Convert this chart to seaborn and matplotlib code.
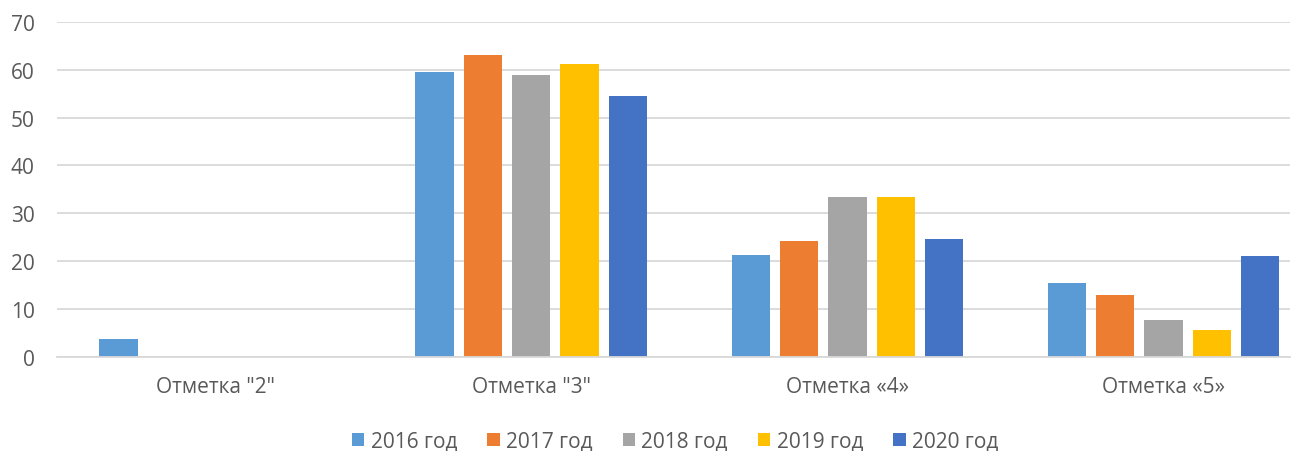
import matplotlib
matplotlib.use("Agg")
import matplotlib.pyplot as plt
import pandas as pd
import seaborn as sns

categories = ['Отметка "2"', 'Отметка "3"', 'Отметка «4»', 'Отметка «5»']
years = ['2016 год', '2017 год', '2018 год', '2019 год', '2020 год']
values_2016 = [3.8, 59.6, 21.3, 15.4]
values_2017 = [0, 63.1, 24.1, 13.0]
values_2018 = [0, 59.0, 33.5, 7.7]
values_2019 = [0, 61.2, 33.4, 5.6]
values_2020 = [0, 54.5, 24.6, 21.1]
colors = ['#5B9BD5', '#ED7D31', '#A5A5A5', '#FFC000', '#4472C4']

sns.set_theme(style="white")
plt.rcParams['font.family'] = ['Open Sans', 'DejaVu Sans']

rows = []
for year, vals in zip(years, [values_2016, values_2017, values_2018, values_2019, values_2020]):
    for cat, v in zip(categories, vals):
        rows.append({'category': cat, 'year': year, 'value': v})
df = pd.DataFrame(rows)

fig = plt.figure(figsize=(12.91, 4.52), dpi=100)
ax = fig.add_axes([57 / 1291, 1 - 357.7 / 452, (1290 - 57) / 1291, (357.7 - 23) / 452])

sns.barplot(data=df, x='category', y='value', hue='year', palette=colors,
            width=0.764, gap=0.207, ax=ax, legend=True, saturation=1, linewidth=0)

ax.set_ylim(0, 70)
ax.set_xlim(-0.5, 3.40)
ax.set_yticks(range(0, 71, 10))
ax.yaxis.grid(True, color='#D9D9D9', linewidth=1.3)
ax.set_axisbelow(True)
for s in ['top', 'right', 'left']:
    ax.spines[s].set_visible(False)
ax.spines['bottom'].set_color('#D9D9D9')
ax.spines['bottom'].set_linewidth(1.3)
ax.set_xlabel('')
ax.set_ylabel('')
ax.tick_params(axis='y', length=0, pad=16, labelsize=15, labelcolor='#595959')
ax.tick_params(axis='x', length=0, pad=14, labelsize=15, labelcolor='#595959')

handles, labels = ax.get_legend_handles_labels()
ax.get_legend().remove()
fig.legend(handles, labels, loc='center', bbox_to_anchor=(675 / 1291, 1 - 442 / 452),
           ncol=5, frameon=False, fontsize=15, labelcolor='#595959',
           handlelength=0.6, handleheight=0.6, handletextpad=0.3, columnspacing=1.45)

fig.savefig('out.png', dpi=100)
